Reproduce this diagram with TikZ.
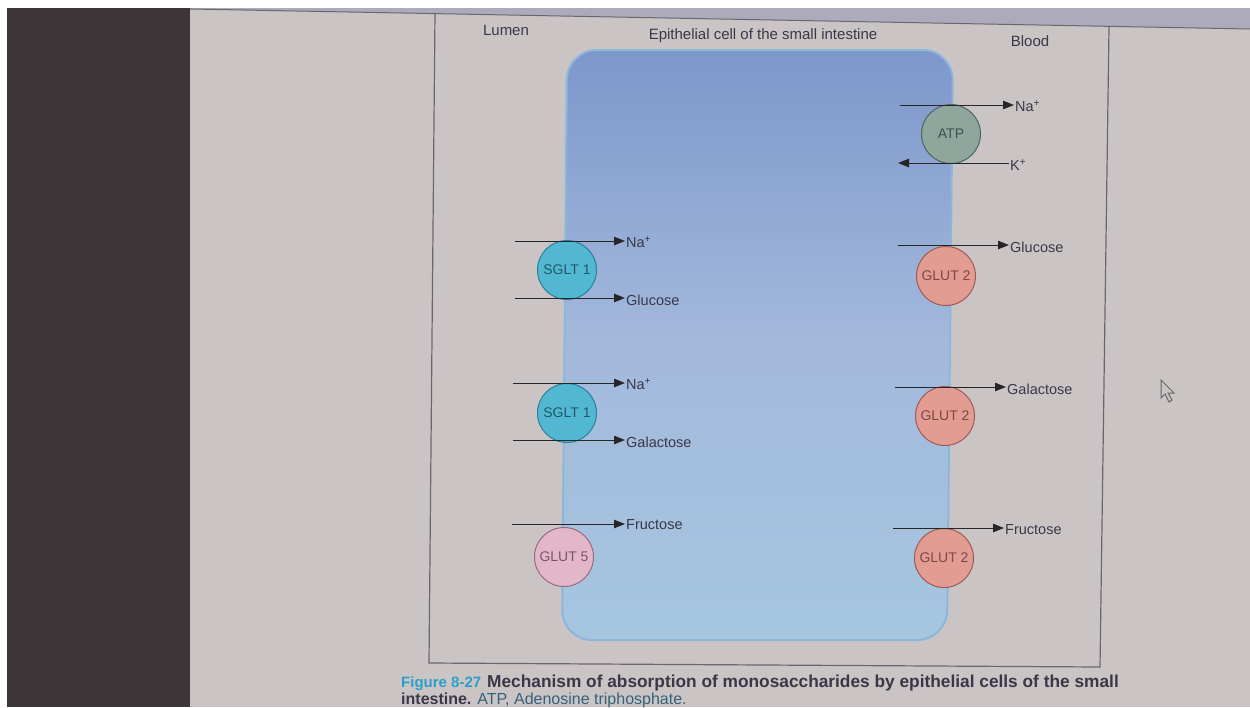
\documentclass[tikz,border=0pt]{standalone}
\usepackage{fontspec}
\setmainfont{Liberation Sans}
\usetikzlibrary{arrows.meta}
\definecolor{pagebg}{HTML}{CAC5C4}
\definecolor{darkband}{HTML}{3E3538}
\definecolor{topstrip}{HTML}{ADAABB}
\definecolor{framecol}{HTML}{6A6670}
\definecolor{celltop}{HTML}{7D97CB}
\definecolor{cellmid}{HTML}{A3B9DC}
\definecolor{cellbot}{HTML}{A6C6E0}
\definecolor{celledge}{HTML}{8DB7DA}
\definecolor{txt}{HTML}{3A3848}
\definecolor{atpfill}{HTML}{8FA69C}
\definecolor{atpedge}{HTML}{4D6660}
\definecolor{sgltfill}{HTML}{52B8D2}
\definecolor{sgltedge}{HTML}{2A7F99}
\definecolor{glutfivefill}{HTML}{E3B7CA}
\definecolor{glutfiveedge}{HTML}{9A6A80}
\definecolor{gluttwofill}{HTML}{E39C92}
\definecolor{gluttwoedge}{HTML}{A05A55}
\definecolor{figcyan}{HTML}{2AA0C8}
\tikzset{
  carrier/.style={circle, minimum size=59pt, inner sep=0pt, line width=1pt, font=\fontsize{14}{14}\selectfont},
  atp/.style={carrier, fill=atpfill, draw=atpedge, text=atpedge!80!black},
  sglt/.style={carrier, fill=sgltfill, draw=sgltedge, text=sgltedge!70!black},
  glutfive/.style={carrier, fill=glutfivefill, draw=glutfiveedge, text=glutfiveedge!80!black},
  gluttwo/.style={carrier, fill=gluttwofill, draw=gluttwoedge, text=gluttwoedge!80!black},
  lbl/.style={anchor=west, inner sep=1pt, text=txt, font=\fontsize{14.5}{14.5}\selectfont},
  head/.style={text=txt, font=\fontsize{15}{15}\selectfont, inner sep=0pt},
  flow/.style={draw=black!85, line width=1pt, -{Triangle[length=11pt,width=8.5pt]}},
  captext/.style={anchor=base west, inner sep=0pt},
}
\begin{document}
\begin{tikzpicture}[x=1pt,y=-1pt]
\useasboundingbox (0,0) rectangle (1250,707);
\clip (0,0) rectangle (1250,707);
% photo background
\fill[white] (0,0) rectangle (1250,707);
\fill[darkband] (7,8) rectangle (190,707);
\fill[pagebg] (190,8) rectangle (1250,707);
\fill[topstrip] (190,8) -- (1250,8) -- (1250,29) -- (190,9) -- cycle;
\draw[framecol, line width=1pt] (190,9) -- (1250,29);
% figure frame
\draw[framecol, line width=1.2pt] (435,13) -- (429,663) -- (1100,667) -- (1109,27);
% cell
\shade[top color=celltop, bottom color=cellbot, middle color=cellmid, rounded corners=30pt]
  (567,50) -- (953,50) -- (947,640) -- (562,640) -- cycle;
\draw[celledge, line width=2pt, rounded corners=30pt]
  (567,50) -- (953,50) -- (947,640) -- (562,640) -- cycle;
% headings
\node[head] (lumen) at (506,30) {Lumen};
\node[head] (cellhead) at (763,36) {Epithelial cell of the small intestine};
\node[head] (blood) at (1030,41) {Blood};
% ATP pump
\node[atp] (atp) at (951,134) {ATP};
\coordinate (naoutA) at (900,105);
\node[lbl] (naout) at (1014,106) {Na\textsuperscript{+}};
\draw[flow] (naoutA) -- (naoutA -| naout.west);
\coordinate (kinB) at (898,163);
\node[lbl] (kin) at (1009,165) {K\textsuperscript{+}};
\draw[flow] (kinB -| kin.west) -- (kinB);
% SGLT1 top
\node[sglt] (sgltA) at (567,270) {SGLT 1};
\coordinate (naAa) at (515,241);
\node[lbl] (naA) at (625,242) {Na\textsuperscript{+}};
\draw[flow] (naAa) -- (naAa -| naA.west);
\coordinate (glcAa) at (515,298);
\node[lbl] (glcA) at (625,300) {Glucose};
\draw[flow] (glcAa) -- (glcAa -| glcA.west);
% SGLT1 bottom
\node[sglt] (sgltB) at (567,413) {SGLT 1};
\coordinate (naBa) at (513,383);
\node[lbl] (naB) at (625,384) {Na\textsuperscript{+}};
\draw[flow] (naBa) -- (naBa -| naB.west);
\coordinate (galBa) at (513,440);
\node[lbl] (galB) at (625,442) {Galactose};
\draw[flow] (galBa) -- (galBa -| galB.west);
% GLUT5
\node[glutfive] (glutfive) at (564,557) {GLUT 5};
\coordinate (fruAa) at (512,524);
\node[lbl] (fruA) at (625,525) {Fructose};
\draw[flow] (fruAa) -- (fruAa -| fruA.west);
% GLUT2 column
\node[gluttwo] (gluttwoA) at (946,276) {GLUT 2};
\coordinate (glcCa) at (898,245);
\node[lbl] (glcC) at (1009,247) {Glucose};
\draw[flow] (glcCa) -- (glcCa -| glcC.west);
\node[gluttwo] (gluttwoB) at (945,416) {GLUT 2};
\coordinate (galCa) at (895,387);
\node[lbl] (galC) at (1006,389) {Galactose};
\draw[flow] (galCa) -- (galCa -| galC.west);
\node[gluttwo] (gluttwoC) at (944,558) {GLUT 2};
\coordinate (fruCa) at (893,528);
\node[lbl] (fruC) at (1004,530) {Fructose};
\draw[flow] (fruCa) -- (fruCa -| fruC.west);
% caption
\node[captext, font=\bfseries\fontsize{15}{15}\selectfont, text=figcyan] (figno) at (401,687) {Figure 8-27};
\node[captext, font=\bfseries\fontsize{17.3}{17.3}\selectfont, text=txt] (capone) at (487,687) {Mechanism of absorption of monosaccharides by epithelial cells of the small};
\node[captext, font=\fontsize{16}{16}\selectfont, text=txt] (captwo) at (401,704) {\textbf{intestine.} \textcolor{txt!60!figcyan}{ATP, Adenosine triphosphate.}};
% mouse pointer
\draw[black!60, line width=1pt, fill=pagebg] (1161,380) -- (1161,398) -- (1165,394) -- (1169,402) -- (1172,400) -- (1168,393) -- (1174,393) -- cycle;
\end{tikzpicture}
\end{document}
